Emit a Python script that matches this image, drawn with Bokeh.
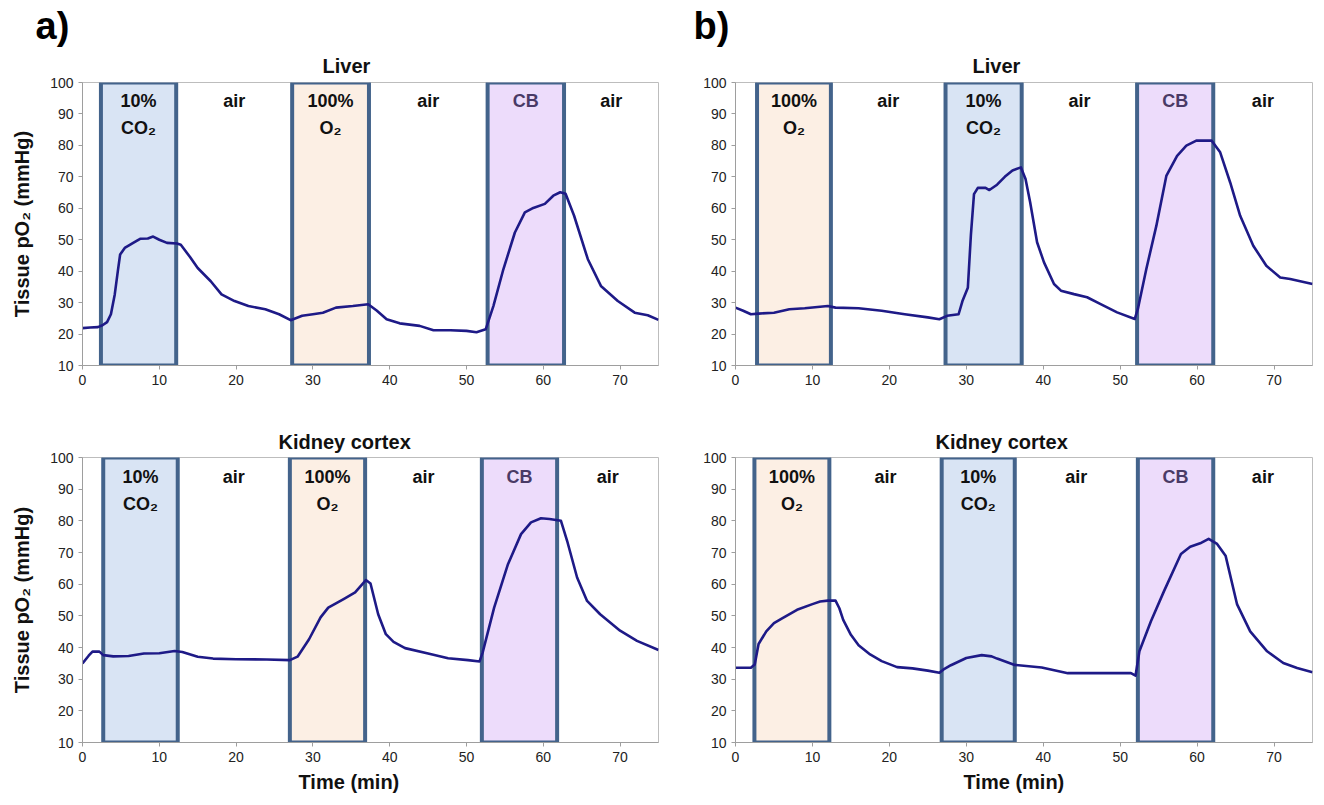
from bokeh.plotting import figure
from bokeh.layouts import column, row
from bokeh.models import Range1d, FixedTicker, Title, ColumnDataSource
from bokeh.core.properties import value
from bokeh.embed import file_html
from bokeh.resources import INLINE

FONT = "Liberation Sans"

# ---------------- data ----------------
x_ticks = [0, 10, 20, 30, 40, 50, 60, 70]
y_ticks = [10, 20, 30, 40, 50, 60, 70, 80, 90, 100]

# a) Liver
a_liver_t = [0, 1, 2, 2.6, 3.2, 3.7, 4.2, 4.6, 4.9, 5.5, 6.6, 7.5, 8.5, 9.2, 10, 11, 12.3, 12.8, 14, 15,
             16.7, 18.1, 19.8, 21.6, 23.8, 25.6, 27.1, 28.6, 30, 31.3, 33, 35.2, 37.2, 38.3, 39.6, 41.3,
             43.9, 45.7, 47.9, 50, 51.3, 52.5, 53.5, 54.8, 56.3, 57.6, 58.7, 60.2, 61.3, 62.2, 62.9, 64,
             65.8, 67.5, 69.7, 71.9, 73.6, 75]
a_liver_po2 = [21.9, 22.1, 22.2, 22.8, 23.8, 26.3, 32.6, 40, 45.3, 47.4, 49, 50.3, 50.4, 51, 50, 49, 48.8,
               48.4, 44.5, 41, 36.8, 32.6, 30.5, 28.9, 27.9, 26.3, 24.4, 25.8, 26.3, 26.8, 28.4, 28.9, 29.5,
               27.5, 24.7, 23.4, 22.6, 21.2, 21.2, 21, 20.6, 21.5, 28.9, 40.6, 52.3, 58.7, 60.1, 61.4, 64,
               65.1, 64.6, 57.7, 43.8, 35.3, 30.5, 26.8, 26, 24.5]
a_liver_phase = ["CO2", "O2", "CB"]
a_liver_start = [2.4, 27.3, 52.75]
a_liver_end = [12.2, 37.3, 62.7]

# b) Liver
b_liver_t = [0, 1, 2, 3, 5, 7, 9, 12, 13, 16, 19, 22, 25, 26.5, 27.5, 29, 29.5, 30.2, 30.6, 31,
             31.5, 32.5, 33, 34, 35, 36, 37.1, 37.7, 38.3, 39.2, 40.1, 41.4, 42.3, 44, 45.7, 47.4, 49.6,
             51.9, 52.3, 53.4, 54.7, 56, 57.4, 58.6, 59.9, 61.9, 63, 64.3, 65.6, 67.3, 69, 70.8, 72.1, 75]
b_liver_po2 = [28.4, 27.4, 26.3, 26.5, 26.8, 27.9, 28.2, 28.9, 28.4, 28.2, 27.4, 26.3, 25.3, 24.7, 25.8,
               26.3, 30.5, 34.7, 51.6, 64.5, 66.5, 66.5, 65.8, 67.5, 70, 72, 73, 69.3, 61.9, 49.2, 42.8,
               35.9, 33.8, 32.7, 31.7, 29.6, 26.9, 24.8, 28, 40.7, 54.4, 70.3, 76.7, 79.9, 81.5, 81.5,
               77.8, 68.2, 57.6, 48.1, 41.7, 38, 37.5, 35.9]
b_liver_phase = ["O2", "CO2", "CB"]
b_liver_start = [2.8, 27.3, 52.2]
b_liver_end = [12.4, 37.2, 62.1]

# a) Kidney cortex
a_kid_t = [0, 0.8, 1.3, 2.2, 2.7, 4, 6, 8, 10, 12, 13, 15, 17, 20, 24, 27, 28, 29.5, 31, 32,
           34, 35.5, 36.9, 37.5, 38.5, 39.5, 40.5, 42, 45, 47.6, 50.2, 51.7, 52.1, 53.6, 55.4, 57.1,
           58.4, 59.7, 60.8, 62.3, 63.1, 64.4, 65.7, 67.4, 70, 72.2, 75]
a_kid_po2 = [35, 37.4, 38.7, 38.7, 37.6, 37.2, 37.3, 38.1, 38.2, 38.9, 38.6, 37.1, 36.5, 36.3, 36.2, 36,
             37.1, 42.6, 49.5, 52.6, 55.3, 57.4, 61.3, 60.2, 50.5, 44.2, 41.8, 39.8, 38.1, 36.6, 36, 35.6,
             38.4, 52.6, 66.3, 75.8, 79.5, 80.8, 80.6, 80, 73.7, 62.1, 54.7, 50.5, 45.3, 42.1, 39.2]
a_kid_phase = ["CO2", "O2", "CB"]
a_kid_start = [2.7, 27.0, 52.0]
a_kid_end = [12.4, 36.8, 61.8]

# b) Kidney cortex
b_kid_t = [0, 2, 2.5, 3, 4, 5, 6, 8, 10, 11, 12, 13, 13.5, 14, 15, 16, 17.5, 19, 21, 23,
           25, 26.5, 27, 28, 30, 32, 33.3, 34, 36.3, 39.8, 43.2, 46.2, 51.4, 52, 52.5, 54, 55.7,
           57.9, 59.1, 60.4, 61.5, 62.6, 63.7, 65.2, 66.9, 69.1, 71.2, 73, 75]
b_kid_po2 = [33.6, 33.6, 34.6, 41.1, 45.1, 47.7, 49.1, 51.9, 53.7, 54.5, 54.8, 54.8, 52.4, 48.7, 44,
             40.7, 37.8, 35.7, 33.8, 33.4, 32.7, 32, 33, 34.4, 36.7, 37.6, 37.2, 36.5, 34.5, 33.7, 31.9,
             31.9, 31.9, 31.1, 38.8, 48.3, 57.8, 69.5, 71.8, 72.9, 74.3, 72.7, 69, 53.6, 45.1, 38.8,
             35.1, 33.5, 32.2]
b_kid_phase = ["O2", "CO2", "CB"]
b_kid_start = [2.46, 26.8, 52.3]
b_kid_end = [12.2, 36.3, 62.1]

PHASE_FILL = {"CO2": "#D9E4F4", "O2": "#FCEFE4", "CB": "#EDDCFB"}
PHASE_TEXT = {"CO2": ["10%", "CO₂"], "O2": ["100%", "O₂"], "CB": ["CB"], "air": ["air"]}
PHASE_TCOL = {"CO2": "#111111", "O2": "#111111", "CB": "#4A3A66", "air": "#111111"}

X_MAX = 75
Y_MIN, Y_MAX = 10, 100


def make_panel(t, po2, phases, starts, ends, title, width, height, bl, br, bt, bb,
               title_off, title_standoff, ylabel=None, xlabel=None, xlabel_off=0, letter=None,
               letter_off=0):
    p = figure(width=width, height=height, x_range=Range1d(0, X_MAX), y_range=Range1d(Y_MIN, Y_MAX),
               output_backend="svg", toolbar_location=None,
               min_border_left=bl, min_border_right=br, min_border_top=bt, min_border_bottom=bb)
    p.background_fill_color = "white"
    p.border_fill_color = "white"
    p.outline_line_color = "#BDBDBD"
    p.outline_line_width = 1
    p.xgrid.visible = False
    p.ygrid.visible = False

    # outermost title: panel letter (if any)
    p.title.text = letter if letter else ""
    p.title.align = "left"
    p.title.offset = letter_off
    p.title.text_font = FONT
    p.title.text_font_size = "38px"
    p.title.text_font_style = "bold"
    p.title.text_color = "#000000"
    p.title.standoff = 0
    if not letter:
        p.title.visible = False
    p.add_layout(Title(text=title, align="left", offset=title_off, text_font=FONT,
                       text_font_size="20px", text_font_style="bold", text_color="#111111",
                       standoff=title_standoff), "above")
    if xlabel:
        p.add_layout(Title(text=xlabel, align="left", offset=xlabel_off, text_font=FONT,
                           text_font_size="20px", text_font_style="bold", text_color="#111111",
                           standoff=8), "below")

    for ax in (p.xaxis[0], p.yaxis[0]):
        ax.axis_line_color = "#9E9E9E"
        ax.major_tick_line_color = "#9E9E9E"
        ax.major_tick_out = 4
        ax.major_tick_in = 0
        ax.minor_tick_line_color = None
        ax.major_label_text_font = FONT
        ax.major_label_text_font_size = "14px"
        ax.major_label_text_color = "#222222"
    p.xaxis.ticker = FixedTicker(ticks=x_ticks)
    p.yaxis.ticker = FixedTicker(ticks=y_ticks)
    if ylabel:
        p.yaxis.axis_label = ylabel
        p.yaxis.axis_label_text_font = FONT
        p.yaxis.axis_label_text_font_size = "20px"
        p.yaxis.axis_label_text_font_style = "bold"
        p.yaxis.axis_label_text_color = "#111111"
        p.yaxis.axis_label_standoff = 14

    # phase boxes
    p.quad(left=starts, right=ends, bottom=[Y_MIN] * len(starts), top=[Y_MAX] * len(starts),
           fill_color=[PHASE_FILL[k] for k in phases], line_color="#43638B", line_width=4)

    # trace
    p.line(t, po2, line_color="#1E1A87", line_width=2.6, line_join="round")

    # labels
    tx, ty, tt, tc = [], [], [], []
    for i, k in enumerate(phases):
        cx = (starts[i] + ends[i]) / 2
        lines = PHASE_TEXT[k]
        for j, s in enumerate(lines):
            tx.append(cx)
            ty.append(94.0 - 8.6 * j)
            tt.append(s)
            tc.append(PHASE_TCOL[k])
        nxt = starts[i + 1] if i + 1 < len(phases) else X_MAX
        tx.append((ends[i] + nxt) / 2)
        ty.append(94.0)
        tt.append("air")
        tc.append(PHASE_TCOL["air"])
    src = ColumnDataSource(dict(x=tx, y=ty, text=tt, color=tc))
    p.text(x="x", y="y", text="text", text_color="color", source=src, text_font=value(FONT),
           text_font_size="18px", text_font_style="bold", text_align="center",
           text_baseline="middle")
    return p


ylab = "Tissue pO₂ (mmHg)"
tl = make_panel(a_liver_t, a_liver_po2, a_liver_phase, a_liver_start, a_liver_end, "Liver",
                685, 405, 82, 27, 82, 40, 240, 12, ylabel=ylab, letter="a)", letter_off=-47)
tr = make_panel(b_liver_t, b_liver_po2, b_liver_phase, b_liver_start, b_liver_end, "Liver",
                631, 405, 50, 4, 82, 40, 237, 12, letter="b)", letter_off=-42)
bl = make_panel(a_kid_t, a_kid_po2, a_kid_phase, a_kid_start, a_kid_end, "Kidney cortex",
                685, 393, 82, 27, 52, 56, 196, 9, ylabel=ylab, xlabel="Time (min)", xlabel_off=216)
br = make_panel(b_kid_t, b_kid_po2, b_kid_phase, b_kid_start, b_kid_end, "Kidney cortex",
                631, 393, 50, 4, 52, 56, 200, 9, xlabel="Time (min)", xlabel_off=228)

layout = column(row(tl, tr), row(bl, br))
open("out.html", "w").write(file_html(layout, INLINE))
